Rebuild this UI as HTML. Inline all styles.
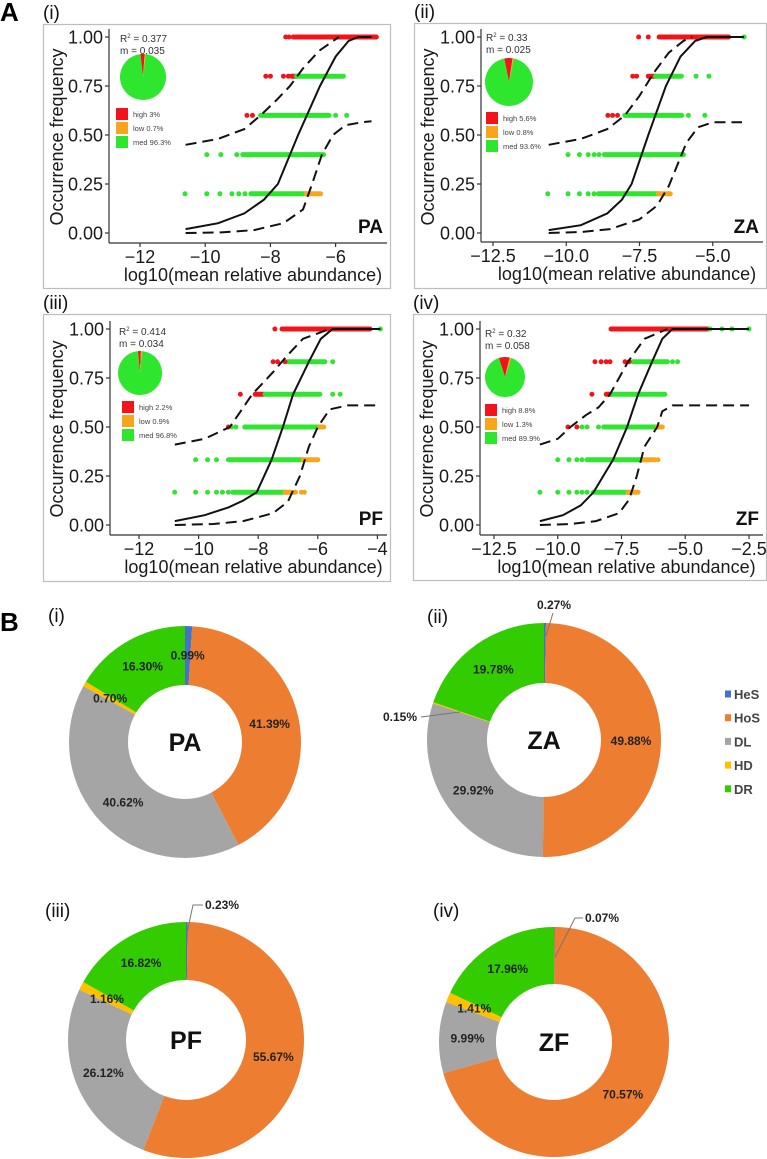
<!DOCTYPE html>
<html><head><meta charset="utf-8"><style>
html,body{margin:0;padding:0;background:#fff;}
svg{display:block;font-family:"Liberation Sans",Arial,sans-serif;}
</style></head><body>
<svg id="fig" width="767" height="1159" viewBox="0 0 767 1159" xmlns="http://www.w3.org/2000/svg">
<text x="0" y="21" font-size="26" font-weight="bold">A</text>
<text x="0" y="631" font-size="26" font-weight="bold">B</text>
<g id="scatter"></g>
<g id="donuts"></g>
</svg>
<script>
// ---------- Panel A data ----------
const panelNames = ['PA','ZA','PF','ZF'];
const panelRomans = ['(i)','(ii)','(iii)','(iv)'];
const r2Labels = ['0.377','0.33','0.414','0.32'];
const mLabels = ['0.035','0.025','0.034','0.058'];
const yTickValues = [0, 0.25, 0.5, 0.75, 1];
const yTickLabels = ['0.00','0.25','0.50','0.75','1.00'];
const xTicksPA = [-12,-10,-8,-6];
const xTicksZA = [-12.5,-10,-7.5,-5];
const xTicksPF = [-12,-10,-8,-6,-4];
const xTicksZF = [-12.5,-10,-7.5,-5,-2.5];
const xTickLabelsPA = ['\u221212','\u221210','\u22128','\u22126'];
const xTickLabelsZA = ['\u221212.5','\u221210.0','\u22127.5','\u22125.0'];
const xTickLabelsPF = ['\u221212','\u221210','\u22128','\u22126','\u22124'];
const xTickLabelsZF = ['\u221212.5','\u221210.0','\u22127.5','\u22125.0','\u22122.5'];
const pieHigh = [3, 5.6, 2.2, 8.8];
const pieLow = [0.7, 0.8, 0.9, 1.3];
const pieMed = [96.3, 93.6, 96.8, 89.9];

const dotsPA = [[1,-7.53,'h'],[1,-7.43,'h'],[0.8,-8.14,'h'],[0.8,-8.0,'h'],[0.8,-7.6,'h'],[0.8,-7.45,'h'],
 [0.6,-8.72,'h'],[0.6,-8.55,'h'],[0.6,-6.0,'m'],[0.6,-5.66,'m'],
 [0.4,-9.95,'m'],[0.4,-9.52,'m'],[0.4,-9.03,'m'],
 [0.2,-10.62,'m'],[0.2,-9.95,'m'],[0.2,-9.55,'m'],[0.2,-9.18,'m'],[0.2,-8.97,'m'],[0.2,-8.78,'m']];
const bandsPA = [[1,-7.3,-4.75,'h'],[0.8,-7.35,-7.2,'h'],[0.8,-7.2,-5.76,'m'],[0.6,-8.3,-6.2,'m'],
 [0.4,-8.85,-6.37,'m'],[0.2,-8.6,-6.9,'m'],[0.2,-6.9,-6.46,'l']];
const solidPA = [[-10.6,0.02],[-9.6,0.05],[-8.8,0.1],[-8.2,0.17],[-7.77,0.25],[-7.15,0.5],[-6.48,0.75],[-6.0,0.9],[-5.6,0.98],[-5.3,1],[-4.9,1]];
const upperPA = [[-10.6,0.45],[-9.6,0.48],[-8.8,0.53],[-8.3,0.6],[-7.8,0.68],[-7.4,0.75],[-7.0,0.84],[-6.5,0.93],[-5.9,1]];
const lowerPA = [[-10.6,0],[-9.5,0.003],[-8.5,0.015],[-7.6,0.05],[-7.0,0.12],[-6.72,0.25],[-6.42,0.4],[-6.08,0.5],[-5.7,0.55],[-5.2,0.565],[-4.9,0.57]];

const dotsZA = [[1,-7.53,'h'],[1,-7.2,'h'],[1,-3.93,'m'],[0.8,-7.73,'h'],[0.8,-7.6,'h'],[0.8,-5.57,'m'],[0.8,-5.13,'m'],
 [0.6,-8.58,'h'],[0.6,-8.42,'h'],[0.6,-8.25,'h'],[0.6,-5.83,'m'],[0.6,-5.27,'m'],
 [0.4,-9.94,'m'],[0.4,-9.55,'m'],[0.4,-9.25,'m'],[0.4,-9.05,'m'],[0.4,-8.88,'m'],
 [0.2,-10.63,'m'],[0.2,-9.94,'m'],[0.2,-9.55,'m'],[0.2,-9.25,'m'],[0.2,-9.05,'m']];
const bandsZA = [[1,-6.83,-4.46,'h'],[0.8,-7.2,-6.95,'h'],[0.8,-6.95,-6.07,'m'],[0.6,-8.0,-6.06,'m'],
 [0.4,-8.7,-6.0,'m'],[0.2,-8.9,-6.86,'m'],[0.2,-6.86,-6.45,'l']];
const solidZA = [[-10.6,0.015],[-9.5,0.04],[-8.6,0.1],[-8.1,0.17],[-7.77,0.25],[-7.2,0.5],[-6.6,0.75],[-6.1,0.9],[-5.6,0.98],[-5.2,1],[-3.93,1]];
const upperZA = [[-10.6,0.45],[-9.5,0.48],[-8.6,0.53],[-8.0,0.6],[-7.5,0.7],[-7.0,0.82],[-6.5,0.92],[-6.0,0.98],[-5.7,1]];
const lowerZA = [[-10.6,0],[-9.5,0.005],[-8.5,0.02],[-7.5,0.07],[-6.9,0.14],[-6.5,0.24],[-6.2,0.35],[-5.9,0.46],[-5.5,0.54],[-5.0,0.565],[-4.0,0.565]];

const dotsPF = [[1,-7.44,'h'],[1,-3.9,'m'],[0.833,-7.5,'h'],[0.833,-7.35,'h'],[0.833,-7.1,'h'],[0.833,-5.5,'m'],
 [0.667,-8.6,'h'],[0.667,-5.5,'m'],[0.667,-5.25,'m'],[0.5,-9.0,'h'],[0.5,-8.9,'m'],[0.5,-8.75,'m'],
 [0.333,-10.1,'m'],[0.333,-9.7,'m'],[0.333,-9.4,'m'],
 [0.167,-10.8,'m'],[0.167,-10.1,'m'],[0.167,-9.7,'m'],[0.167,-9.4,'m'],[0.167,-9.2,'m'],[0.167,-9.0,'m'],[0.167,-6.55,'l'],[0.167,-6.45,'l']];
const bandsPF = [[1,-7.2,-4.25,'h'],[0.833,-7.0,-5.76,'m'],[0.667,-8.1,-7.8,'h'],[0.667,-7.77,-5.93,'m'],
 [0.5,-8.45,-5.93,'m'],[0.5,-5.93,-5.8,'l'],[0.333,-9.0,-6.5,'m'],[0.333,-6.5,-6.0,'l'],
 [0.167,-8.85,-7.1,'m'],[0.167,-7.1,-6.75,'l']];
const solidPF = [[-10.8,0.02],[-9.8,0.05],[-9.0,0.09],[-8.5,0.125],[-8.05,0.167],[-7.55,0.333],[-7.17,0.5],[-6.83,0.667],[-6.3,0.833],[-5.9,0.95],[-5.5,1],[-3.9,1]];
const upperPF = [[-10.8,0.41],[-9.8,0.44],[-8.95,0.5],[-8.2,0.667],[-7.5,0.78],[-7.05,0.86],[-6.5,0.95],[-5.6,1]];
const lowerPF = [[-10.8,0],[-9.5,0.005],[-8.5,0.02],[-7.5,0.06],[-7.0,0.12],[-6.6,0.25],[-6.3,0.4],[-6.0,0.5],[-5.6,0.59],[-5.0,0.61],[-3.9,0.61]];

const dotsZF = [[1,-4.03,'m'],[1,-3.56,'m'],[1,-3.17,'m'],[1,-2.5,'m'],
 [0.833,-8.54,'h'],[0.833,-8.3,'h'],[0.833,-8.1,'h'],[0.833,-7.95,'h'],[0.833,-7.36,'h'],[0.833,-7.2,'h'],[0.833,-5.5,'m'],[0.833,-5.3,'m'],
 [0.667,-8.66,'h'],[0.5,-9.6,'h'],[0.5,-9.25,'h'],[0.5,-9.05,'m'],[0.5,-8.85,'m'],[0.5,-8.4,'m'],
 [0.333,-10.0,'m'],[0.333,-9.56,'m'],[0.333,-9.25,'m'],[0.333,-9.05,'m'],[0.333,-6.07,'l'],
 [0.167,-10.7,'m'],[0.167,-10.0,'m'],[0.167,-9.56,'m'],[0.167,-9.25,'m'],[0.167,-9.05,'m'],[0.167,-8.85,'m']];
const bandsZF = [[1,-7.91,-4.1,'h'],[0.833,-7.05,-5.7,'m'],[0.667,-8.1,-7.9,'h'],[0.667,-7.87,-5.8,'m'],
 [0.5,-8.2,-6.1,'m'],[0.5,-6.1,-5.9,'l'],[0.333,-8.85,-6.66,'m'],[0.333,-6.66,-6.2,'l'],
 [0.167,-8.6,-7.25,'m'],[0.167,-7.25,-6.85,'l']];
const solidZF = [[-10.7,0.02],[-9.8,0.05],[-9.1,0.1],[-8.6,0.167],[-7.83,0.333],[-7.28,0.5],[-6.85,0.667],[-6.3,0.833],[-5.9,0.95],[-5.5,1],[-2.5,1]];
const upperZF = [[-10.7,0.41],[-10.0,0.44],[-9.5,0.5],[-8.9,0.56],[-8.4,0.6],[-7.95,0.667],[-7.24,0.833],[-6.6,0.95],[-5.7,1]];
const lowerZF = [[-10.7,0],[-9.5,0.005],[-8.5,0.02],[-7.6,0.06],[-7.2,0.13],[-6.9,0.25],[-6.6,0.4],[-6.1,0.5],[-5.9,0.58],[-5.5,0.61],[-2.5,0.61]];

// ---------- Panel B data ----------
const donutCategories = ['HeS','HoS','DL','HD','DR'];
const donutPA = [0.99, 41.39, 40.62, 0.70, 16.30];
const donutZA = [0.27, 49.88, 29.92, 0.15, 19.78];
const donutPF = [0.23, 55.67, 26.12, 1.16, 16.82];
const donutZF = [0.07, 70.57, 9.99, 1.41, 17.96];

// ---------- rendering ----------
const NS = 'http://www.w3.org/2000/svg';
function mk(tag, attrs, parent){const e=document.createElementNS(NS,tag);for(const k in attrs)e.setAttribute(k,attrs[k]);parent.appendChild(e);return e;}
const COL = {h:'#f2141a', l:'#f9a51b', m:'#2fe62f'};
const layouts = [
 {box:[43,24,347,264], ax:109, ay:243, x0:140, v0:-12, k:32.6, y1:37, dots:dotsPA, bands:bandsPA, solid:solidPA, up:upperPA, lo:lowerPA, ticks:xTicksPA, tl:xTickLabelsPA, pie:[143,77,23], leg:[116,108], r2:[120,38]},
 {box:[414,23,352,265], ax:481, ay:242, x0:493, v0:-12.5, k:29.3, y1:37, dots:dotsZA, bands:bandsZA, solid:solidZA, up:upperZA, lo:lowerZA, ticks:xTicksZA, tl:xTickLabelsZA, pie:[509,82,24], leg:[486,112], r2:[486,37]},
 {box:[43,314,347,267], ax:110, ay:535, x0:139, v0:-12, k:29.8, y1:329, dots:dotsPF, bands:bandsPF, solid:solidPF, up:upperPF, lo:lowerPF, ticks:xTicksPF, tl:xTickLabelsPF, pie:[140,373,22], leg:[122,401], r2:[119,331]},
 {box:[413,314,353,266], ax:480, ay:535, x0:494, v0:-12.5, k:25.5, y1:329, dots:dotsZF, bands:bandsZF, solid:solidZF, up:upperZF, lo:lowerZF, ticks:xTicksZF, tl:xTickLabelsZF, pie:[505,377,20], leg:[485,404], r2:[485,333]}
];
const sc = document.getElementById('scatter');
layouts.forEach((L,i)=>{
  const g = mk('g',{},sc);
  
  
  const sx = v => L.x0 + (v - L.v0)*L.k;
  const sy = f => L.y1 + 196 - f*196;
  const [bx,by,bw,bh] = L.box;
  const rt = mk('text',{x:bx,y:by-5,'font-size':19,fill:'#111'},g); rt.textContent=panelRomans[i];
   
  const fr = mk('rect',{x:bx+0.5,y:by+0.5,width:bw,height:bh,fill:'none',stroke:'#bdbdbd','stroke-width':1.2},g);
   
  const axr = bx+bw-3;
  const xa = mk('line',{x1:L.ax,y1:L.ay,x2:axr,y2:L.ay,stroke:'#333','stroke-width':1.2},g);
   
  const ya = mk('line',{x1:L.ax,y1:L.y1-8,x2:L.ax,y2:L.ay,stroke:'#333','stroke-width':1.2},g);
   
  yTickValues.forEach((v,j)=>{
    mk('line',{x1:L.ax-4,y1:sy(v),x2:L.ax,y2:sy(v),stroke:'#333','stroke-width':1.2},g);
    const t = mk('text',{x:L.ax-6,y:sy(v)+6.5,'font-size':18,'text-anchor':'end',fill:'#1a1a1a'},g);
    t.textContent = yTickLabels[j];
     
  });
  L.ticks.forEach((v,j)=>{
    mk('line',{x1:sx(v),y1:L.ay,x2:sx(v),y2:L.ay+4,stroke:'#333','stroke-width':1.2},g);
    const t = mk('text',{x:sx(v),y:L.ay+20,'font-size':18,'text-anchor':'middle',fill:'#1a1a1a'},g);
    t.textContent = L.tl[j];
     
  });
  const xt = mk('text',{x:(L.ax+axr)/2+5,y:L.ay+38,'font-size':18,'text-anchor':'middle',fill:'#1a1a1a'},g);
  xt.textContent='log10(mean relative abundance)';
   
  const ytx = bx+20, yty = L.y1+100;
  const yt = mk('text',{x:ytx,y:yty,'font-size':18,'text-anchor':'middle',fill:'#1a1a1a',transform:`rotate(-90 ${ytx} ${yty})`},g);
  yt.textContent='Occurrence frequency';
   
  L.bands.forEach(b=>{
    const r = mk('line',{x1:sx(b[1]),y1:sy(b[0]),x2:sx(b[2]),y2:sy(b[0]),stroke:COL[b[3]],'stroke-width':5,'stroke-linecap':'round'},g);
     
  });
  L.dots.forEach(d=>{
    const c = mk('circle',{cx:sx(d[1]),cy:sy(d[0]),r:2.5,fill:COL[d[2]]},g);
     
  });
  const path = pts => pts.map((p,j)=>(j?'L':'M')+sx(p[0]).toFixed(1)+','+sy(p[1]).toFixed(1)).join('');
  const s = mk('path',{d:path(L.solid),fill:'none',stroke:'#111','stroke-width':2},g);
   
  const u = mk('path',{d:path(L.up),fill:'none',stroke:'#111','stroke-width':2,'stroke-dasharray':'11 6'},g);
   
  const lo = mk('path',{d:path(L.lo),fill:'none',stroke:'#111','stroke-width':2,'stroke-dasharray':'11 6'},g);
   
  const pn = mk('text',{x:bx+bw-7,y:L.y1+196,'font-size':19,'font-weight':'bold','text-anchor':'end',fill:'#111'},g);
  pn.textContent=panelNames[i];
   
  const r2 = mk('text',{x:L.r2[0],y:L.r2[1]+4,'font-size':10,fill:'#333'},g);
  r2.innerHTML = 'R<tspan font-size="6" dy="-4">2</tspan><tspan dy="4"> = '+r2Labels[i]+'</tspan>';
   
  const ml = mk('text',{x:L.r2[0],y:L.r2[1]+16,'font-size':10,fill:'#333'},g);
  ml.textContent='m = '+mLabels[i];
   
  const [pcx,pcy,pr] = L.pie;
  const vals = [pieHigh[i],pieLow[i],pieMed[i]], cols=[COL.h,'#f9a51b','#2fe62f'];
  let a0 = -(pieHigh[i]+pieLow[i])*3.6*0.5;
  vals.forEach((v,j)=>{
    const a1 = a0 + v*3.6;
    const p = (a)=>[pcx+pr*Math.sin(a*Math.PI/180), pcy-pr*Math.cos(a*Math.PI/180)];
    const [x0,y0]=p(a0),[x1,y1]=p(a1);
    const w = mk('path',{d:`M${pcx},${pcy}L${x0},${y0}A${pr},${pr} 0 ${v>50?1:0} 1 ${x1},${y1}Z`,fill:cols[j]},g);
     
    a0=a1;
  });
  const legN = ['high ','low ','med '];
  vals.forEach((v,j)=>{
    const yy = L.leg[1]+j*14;
    const sq = mk('rect',{x:L.leg[0],y:yy,width:12,height:12,fill:cols[j]},g);
     
    const t = mk('text',{x:L.leg[0]+17,y:yy+9,'font-size':7.5,fill:'#444'},g);
    t.textContent = legN[j]+v+'%';
     
  });
});

// donuts
const DCOL = ['#4472c4','#ed7d31','#a5a5a5','#ffc000','#33cc00'];
const dLayouts = [
 {c:[185,742], r:116, ri:57, vals:donutPA, rom:[48,622]},
 {c:[544,740], r:117, ri:57, vals:donutZA, rom:[427,623]},
 {c:[186,1040], r:118, ri:60, vals:donutPF, rom:[45,917]},
 {c:[554,1042], r:115, ri:58, vals:donutZF, rom:[433,917]}
];
const outsideLabels = {
 '1-0':{tx:537,ty:609,line:'553,613 546,636'},
 '1-3':{tx:383,ty:721,line:'421,717 460,712'},
 '2-0':{tx:205,ty:909,line:'203,905 193,905 187,933'},
 '3-0':{tx:585,ty:922,line:'583,918 575,918 555,957'}
};
const dg = document.getElementById('donuts');
dLayouts.forEach((D,i)=>{
  const g = mk('g',{},dg);
  
  
  const rt = mk('text',{x:D.rom[0],y:D.rom[1],'font-size':19,fill:'#111'},g); rt.textContent=panelRomans[i];
   
  const [cx,cy]=D.c; const tot = D.vals.reduce((a,b)=>a+b,0);
  const P=(a,r)=>[cx+r*Math.sin(a*Math.PI/180), cy-r*Math.cos(a*Math.PI/180)];
  const mids = [];
  let a0=0;
  D.vals.forEach((v,j)=>{
    const a1 = a0 + v/tot*360;
    const [x0,y0]=P(a0,D.r),[x1,y1]=P(a1,D.r),[x2,y2]=P(a1,D.ri),[x3,y3]=P(a0,D.ri);
    const big = (a1-a0)>180?1:0;
    const s = mk('path',{d:`M${x0},${y0}A${D.r},${D.r} 0 ${big} 1 ${x1},${y1}L${x2},${y2}A${D.ri},${D.ri} 0 ${big} 0 ${x3},${y3}Z`,fill:DCOL[j]},g);
     
    mids.push((a0+a1)/2);
    a0=a1;
  });
  D.vals.forEach((v,j)=>{
    const key = i+'-'+j;
    let t;
    if(outsideLabels[key]){
      const o = outsideLabels[key];
      const pl = mk('polyline',{points:o.line,fill:'none',stroke:'#777','stroke-width':1},g);
       
      t = mk('text',{x:o.tx,y:o.ty,'font-size':12,'font-weight':'bold',fill:'#222'},g);
    } else {
      const [lx,ly]=P(mids[j],(D.r+D.ri)/2);
      t = mk('text',{x:lx,y:ly+4,'font-size':12,'font-weight':'bold','text-anchor':'middle',fill:'#222'},g);
    }
    t.textContent = v.toFixed(2)+'%';
     
  });
  const c = mk('text',{x:cx,y:cy+9,'font-size':25,'font-weight':'bold','text-anchor':'middle',fill:'#111'},g);
  c.textContent=panelNames[i];
   
});
const lg = mk('g',{},dg);
 
donutCategories.forEach((n,j)=>{
  const y = 694 + j*23.7;
  const sq = mk('rect',{x:725,y:y-3.5,width:6,height:7,fill:DCOL[j]},lg);
   
  const t = mk('text',{x:734,y:y+5,'font-size':13,'font-weight':'bold',fill:'#444'},lg);
  t.textContent=n;
   
});
</script>
</body></html>
